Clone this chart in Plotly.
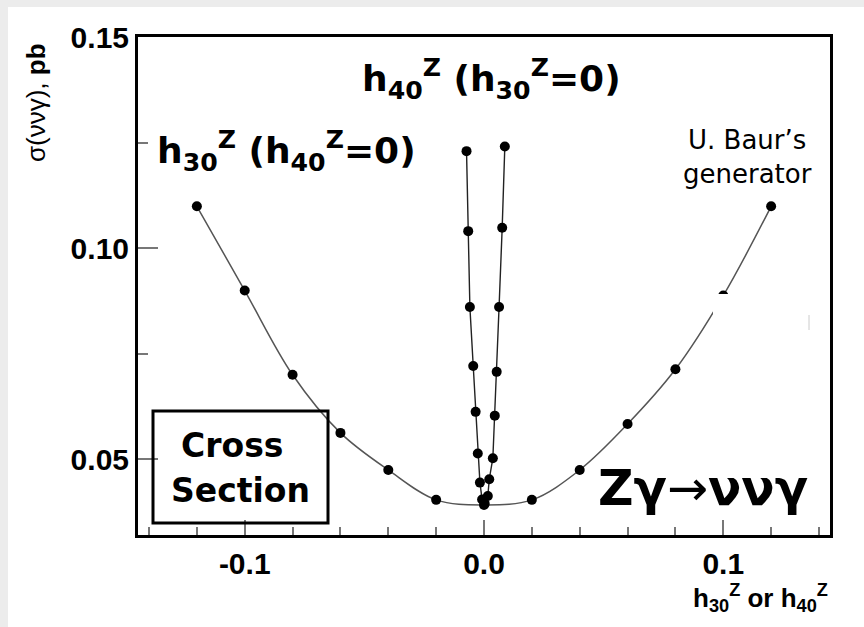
import plotly.graph_objects as go

# h30^Z scan (h40^Z = 0)
h30_vals = [-0.12, -0.10, -0.08, -0.06, -0.04, -0.02, 0.0, 0.02, 0.04, 0.06, 0.08, 0.10, 0.12]
h30_sigma = [0.110, 0.090, 0.070, 0.0562, 0.0474, 0.0403, 0.0391, 0.0403, 0.0474, 0.0583, 0.0713, 0.0888, 0.110]

# h40^Z scan (h30^Z = 0), negative and positive branches
h40_neg_vals = [-0.0073, -0.0066, -0.0059, -0.0045, -0.0035, -0.0026, -0.0017, -0.0008, 0.0003]
h40_neg_sigma = [0.1231, 0.1041, 0.0861, 0.0721, 0.0612, 0.0513, 0.0444, 0.0404, 0.0394]
h40_pos_vals = [0.0003, 0.0016, 0.0022, 0.0037, 0.0045, 0.0053, 0.0063, 0.0076, 0.0087]
h40_pos_sigma = [0.0394, 0.0412, 0.0452, 0.0502, 0.0603, 0.0707, 0.0861, 0.1049, 0.1242]

x_ticks = [-0.1, 0.0, 0.1]
x_ticklabels = ["-0.1", "0.0", "0.1"]
x_minor = [-0.14, -0.12, -0.08, -0.06, -0.04, -0.02, 0.02, 0.04, 0.06, 0.08, 0.12, 0.14]
y_ticks = [0.05, 0.10, 0.15]
y_ticklabels = ["0.05", "0.10", "0.15"]
y_minor = [0.075, 0.125]

W, H = 864, 627
L, R, T, B = 138, 34, 37, 92
PW, PH = W - L - R, H - T - B


def px(x):
    return (x - L) / PW


def py(y):
    return (H - B - y) / PH


fig = go.Figure()

fig.add_trace(go.Scatter(
    x=h30_vals, y=h30_sigma, mode="lines+markers",
    line=dict(color="#555555", width=1.5, shape="spline", smoothing=1.0),
    marker=dict(color="black", size=10),
    showlegend=False,
))

h40_x = h40_neg_vals + h40_pos_vals[1:]
h40_y = h40_neg_sigma + h40_pos_sigma[1:]
fig.add_trace(go.Scatter(
    x=h40_x, y=h40_y, mode="lines+markers",
    line=dict(color="#222222", width=1.4),
    marker=dict(color="black", size=10),
    showlegend=False,
))

comic = "DejaVu Sans"
helv = "Liberation Sans"

annotations = [
    dict(x=px(155), y=py(151), text="h<sub>30</sub><sup>Z</sup> (h<sub>40</sub><sup>Z</sup>=0)",
         xanchor="left", yanchor="middle", font=dict(family=comic, size=36, weight="bold", color="black")),
    dict(x=px(491), y=py(79), text="h<sub>40</sub><sup>Z</sup> (h<sub>30</sub><sup>Z</sup>=0)",
         xanchor="center", yanchor="middle", font=dict(family=comic, size=36, weight="bold", color="black")),
    dict(x=px(747), y=py(157), text="U. Baur’s<br>generator",
         xanchor="center", yanchor="middle", font=dict(family=comic, size=26, color="black")),
    dict(x=px(232), y=py(445), text="Cross",
         xanchor="center", yanchor="middle", font=dict(family=comic, size=33, weight="bold", color="black")),
    dict(x=px(240), y=py(490), text="Section",
         xanchor="center", yanchor="middle", font=dict(family=comic, size=33, weight="bold", color="black")),
    dict(x=px(703), y=py(488), text="Zγ<span style='font-weight:normal'>→</span>ννγ",
         xanchor="center", yanchor="middle", font=dict(family=comic, size=49, weight="bold", color="black")),
    dict(x=px(36), y=py(103), text="σ(ννγ), <b>pb</b>", textangle=-90,
         xanchor="center", yanchor="middle", font=dict(family=helv, size=26, color="black")),
    dict(x=px(830), y=py(598), text="h<sub>30</sub><sup>Z</sup> or h<sub>40</sub><sup>Z</sup>",
         xanchor="right", yanchor="middle", font=dict(family=helv, size=26, weight="bold", color="black")),
]
for a in annotations:
    a.update(xref="paper", yref="paper", showarrow=False)

shapes = [
    # label box
    dict(type="rect", xref="paper", yref="paper", x0=px(153), x1=px(328), y0=py(523), y1=py(411),
         line=dict(color="black", width=3), fillcolor="rgba(0,0,0,0)", layer="above"),
    # blank patch over the curve
    dict(type="rect", xref="paper", yref="paper", x0=px(713), x1=px(808), y0=py(331), y1=py(294),
         line=dict(width=0), fillcolor="white", layer="above"),
    dict(type="line", xref="paper", yref="paper", x0=px(809), x1=px(809), y0=py(330), y1=py(315),
         line=dict(width=1, color="#cccccc"), layer="above"),
    # light grey page edge
    dict(type="rect", xref="paper", yref="paper", x0=px(0), x1=px(W), y0=py(7), y1=py(0),
         line=dict(width=0), fillcolor="#ececec", layer="below"),
    dict(type="rect", xref="paper", yref="paper", x0=px(0), x1=px(8), y0=py(H), y1=py(0),
         line=dict(width=0), fillcolor="#ececec", layer="below"),
]

fig.update_layout(
    width=W, height=H,
    margin=dict(l=L, r=R, t=T, b=B),
    paper_bgcolor="white", plot_bgcolor="white",
    annotations=annotations, shapes=shapes,
    xaxis=dict(
        range=[-0.1446, 0.1446], showgrid=False, zeroline=False,
        showline=True, mirror=True, linecolor="black", linewidth=3,
        tickmode="array", tickvals=x_ticks, ticktext=x_ticklabels,
        ticks="inside", ticklen=15, tickwidth=1.5, tickcolor="#777777",
        minor=dict(tickmode="array", tickvals=x_minor, ticks="inside", ticklen=8,
                   tickwidth=1.5, tickcolor="#777777"),
        tickfont=dict(family=helv, size=30, weight="bold", color="black"),
    ),
    yaxis=dict(
        range=[0.03196, 0.1502], showgrid=False, zeroline=False,
        showline=True, mirror=True, linecolor="black", linewidth=3,
        tickmode="array", tickvals=y_ticks, ticktext=y_ticklabels,
        ticks="inside", ticklen=20, tickwidth=1.5, tickcolor="#777777",
        minor=dict(tickmode="array", tickvals=y_minor, ticks="inside", ticklen=10,
                   tickwidth=1.5, tickcolor="#777777"),
        tickfont=dict(family=helv, size=30, weight="bold", color="black"),
    ),
)

fig.write_html("out.html")
